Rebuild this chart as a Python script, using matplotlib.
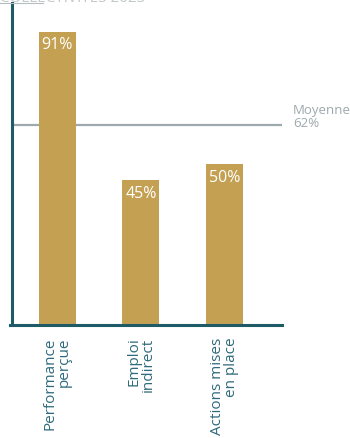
import matplotlib
matplotlib.use("Agg")
import matplotlib.pyplot as plt
from matplotlib.lines import Line2D

plt.rcParams['font.family'] = ['Open Sans', 'DejaVu Sans']

categories = ["Performance\nperçue", "Emploi\nindirect", "Actions mises\nen place"]
values = [91, 45, 50]
labels = ["91%", "45%", "50%"]
mean_value = 62
mean_label = "Moyenne\n62%"
title = "COLLECTIVITÉS 2023"

bar_color = "#c4a052"
spine_color = "#1f5b66"
mean_color = "#9ea9ad"
tick_color = "#2f6a7c"

fig = plt.figure(figsize=(3.5, 4.39), dpi=100)
ax = fig.add_axes([0.034, 0.257, 0.772, 0.734])

x = list(range(len(categories)))
ax.bar(x, values, width=0.443, color=bar_color, zorder=2)
for xi, v, lab in zip(x, values, labels):
    ax.text(xi, v - 1.4, lab, ha='center', va='top', color='white',
            fontsize=11.5, zorder=3)

ax.axhline(mean_value, color=mean_color, lw=1.6, zorder=1)
ax.text(1.04, mean_value + 3, mean_label, transform=ax.get_yaxis_transform(),
        ha='left', va='center', color=mean_color, fontsize=9.5,
        linespacing=1.0, clip_on=False)

ax.set_xlim(-0.545, 2.69)
ax.set_ylim(0, 100)
ax.set_xticks(x)
ax.set_xticklabels(categories, rotation=90, ha='center', va='top',
                   multialignment='right', color=tick_color, fontsize=11,
                   linespacing=0.92)
ax.tick_params(axis='x', length=0, pad=8)
ax.set_yticks([])

for side in ('top', 'right'):
    ax.spines[side].set_visible(False)
for side in ('left', 'bottom'):
    ax.spines[side].set_color(spine_color)
    ax.spines[side].set_linewidth(2.2)
ax.spines['bottom'].set_bounds(-0.57, 2.69)

# header text running off the top edge
fig.text(0.0, 0.9965, title, ha='left', va='baseline', color='#c3c8ca',
         fontsize=11)
fig.add_artist(Line2D([0.0, 0.123], [0.991, 0.991], color='#b5bcbf', lw=0.8))

fig.savefig("out.png", dpi=100)
